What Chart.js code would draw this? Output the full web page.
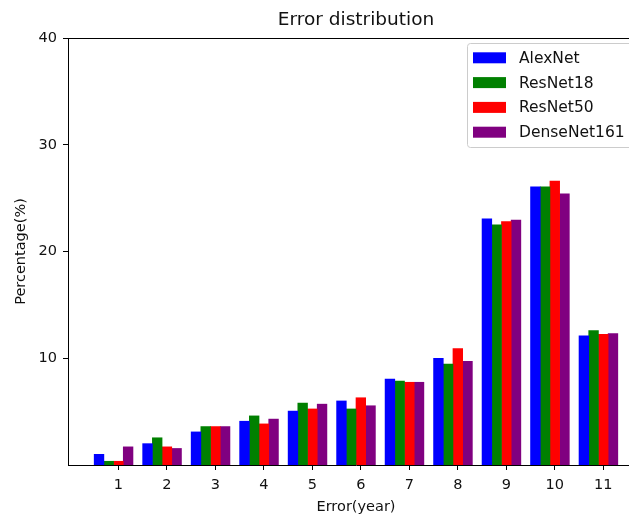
<!DOCTYPE html>
<html>
<head>
<meta charset="utf-8">
<script src="https://cdn.jsdelivr.net/npm/chart.js@4.4.1/dist/chart.umd.min.js"></script>
<style>
  body { margin: 0; background: #fff; }
  #wrap { width: 629px; height: 518px; overflow: hidden; }
</style>
</head>
<body>
<div id="wrap"><canvas id="errChart" width="646" height="518"></canvas></div>
<script>
const categories = [1, 2, 3, 4, 5, 6, 7, 8, 9, 10, 11];
const alexnet = [1.0, 2.0, 3.1, 4.1, 5.05, 6.0, 8.05, 10.0, 23.05, 26.05, 12.1];
const resnet18 = [0.35, 2.55, 3.6, 4.6, 5.8, 5.25, 7.85, 9.45, 22.5, 26.05, 12.6];
const resnet50 = [0.35, 1.7, 3.6, 3.85, 5.25, 6.3, 7.75, 10.9, 22.8, 26.6, 12.25];
const densenet161 = [1.7, 1.55, 3.6, 4.3, 5.7, 5.55, 7.75, 9.7, 22.95, 25.4, 12.3];
const yTicks = [10, 20, 30, 40];

const textColor = "#111";
const font = "DejaVu Sans";

// bars sit at x - 2w, x - w, x, x + w (w = 0.2), like the matplotlib original
function series(label, values, color, shift) {
  return {
    label: label,
    data: values.map((v, i) => ({ x: categories[i] + shift, y: v })),
    backgroundColor: color,
    grouped: false,
    categoryPercentage: 1,
    barPercentage: 1,
  };
}

const spines = {
  id: "spines",
  afterDraw(chart) {
    const { ctx, chartArea } = chart;
    ctx.save();
    ctx.strokeStyle = "#000";
    ctx.lineWidth = 1;
    ctx.beginPath();
    ctx.moveTo(chartArea.left, chartArea.top + 0.5);
    ctx.lineTo(chartArea.right, chartArea.top + 0.5);
    ctx.stroke();

    // title
    ctx.fillStyle = textColor;
    ctx.font = "18.5px '" + font + "'";
    ctx.textAlign = "center";
    ctx.textBaseline = "middle";
    ctx.fillText("Error distribution", (chartArea.left + chartArea.right) / 2, 20);

    // legend, upper right (its right edge falls outside the crop)
    const bx = 467, by = 43;
    ctx.fillStyle = "rgba(255,255,255,0.8)";
    ctx.strokeStyle = "#ccc";
    ctx.beginPath();
    ctx.roundRect(bx + 0.5, by + 0.5, 180, 104, 3);
    ctx.fill();
    ctx.stroke();
    ctx.font = "15.5px '" + font + "'";
    ctx.textAlign = "left";
    chart.data.datasets.forEach((ds, i) => {
      const cy = 57.8 + i * 24.8;
      ctx.fillStyle = ds.backgroundColor;
      ctx.fillRect(473, cy - 5.5, 33, 11);
      ctx.fillStyle = textColor;
      ctx.fillText(ds.label, 519, cy + 1);
    });
    ctx.restore();
  },
};

new Chart(document.getElementById("errChart"), {
  type: "bar",
  data: {
    datasets: [
      series("AlexNet", alexnet, "#0000ff", -0.4),
      series("ResNet18", resnet18, "#008000", -0.2),
      series("ResNet50", resnet50, "#ff0000", 0),
      series("DenseNet161", densenet161, "#800080", 0.2),
    ],
  },
  options: {
    responsive: false,
    animation: false,
    devicePixelRatio: 1,
    layout: { padding: { top: 38, right: 2, left: 0, bottom: 0 } },
    plugins: { legend: { display: false }, tooltip: { enabled: false } },
    scales: {
      x: {
        type: "linear",
        min: -0.04,
        max: 11.84,
        offset: false,
        afterBuildTicks: (s) => { s.ticks = categories.map((v) => ({ value: v })); },
        afterFit: (s) => { s.height = 53; },
        grid: { offset: false, drawOnChartArea: false, tickLength: 5, color: "#000" },
        border: { display: true, color: "#000", width: 1 },
        ticks: { color: textColor, font: { family: font, size: 14.5 }, padding: 7, maxRotation: 0 },
        title: {
          display: true,
          text: "Error(year)",
          color: textColor,
          font: { family: font, size: 14.5 },
          padding: { top: 2, bottom: 2 },
        },
      },
      y: {
        min: 0,
        max: 40,
        afterBuildTicks: (s) => { s.ticks = yTicks.map((v) => ({ value: v })); },
        afterFit: (s) => { s.width = 68; },
        grid: { drawOnChartArea: false, tickLength: 5, color: "#000" },
        border: { display: true, color: "#000", width: 1 },
        ticks: { color: textColor, font: { family: font, size: 14.5 }, padding: 6 },
        title: {
          display: true,
          text: "Percentage(%)",
          color: textColor,
          font: { family: font, size: 14.5 },
          padding: { top: 13, bottom: 0 },
        },
      },
    },
  },
  plugins: [spines],
});
</script>
</body>
</html>
